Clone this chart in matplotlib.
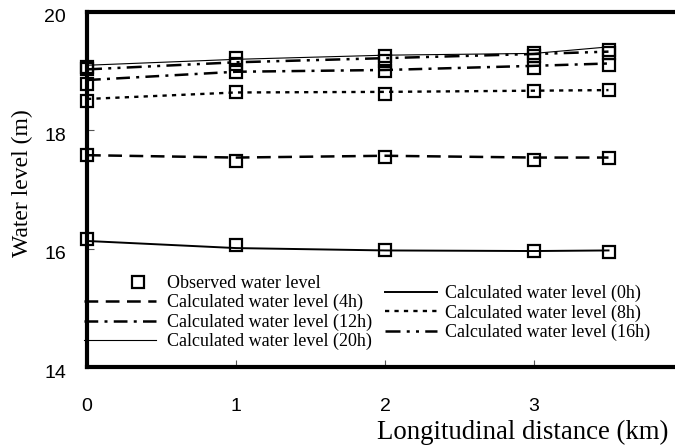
import matplotlib
matplotlib.use("Agg")
import matplotlib.pyplot as plt
import matplotlib.transforms as mtransforms
from matplotlib.lines import Line2D
from matplotlib.legend_handler import HandlerLine2D

# ---- data ----
distance_km = [0, 1, 2, 3, 3.5]
calc_0h  = [16.13, 16.01, 15.97, 15.96, 15.97]
calc_4h  = [17.58, 17.54, 17.57, 17.54, 17.54]
calc_8h  = [18.53, 18.64, 18.65, 18.67, 18.68]
calc_12h = [18.85, 18.99, 19.02, 19.09, 19.13]
calc_16h = [19.03, 19.15, 19.22, 19.29, 19.33]
calc_20h = [19.10, 19.20, 19.27, 19.30, 19.41]

obs_0h  = [16.16, 16.06, 15.98, 15.96, 15.95]
obs_4h  = [17.59, 17.49, 17.55, 17.50, 17.54]
obs_8h  = [18.50, 18.64, 18.62, 18.67, 18.68]
obs_12h = [18.78, 18.99, 19.00, 19.05, 19.10]
obs_16h = [19.03, 19.12, 19.18, 19.25, 19.30]
obs_20h = [19.07, 19.22, 19.26, 19.30, 19.36]

x_ticks = [0, 1, 2, 3]
y_ticks = [14, 16, 18, 20]

W, H = 675, 447
fig = plt.figure(figsize=(W / 100, H / 100), dpi=100)
ax = fig.add_axes([87 / W, 1 - 367 / H, (683 - 87) / W, (367 - 12) / H])
ax.set_xlim(0, 4)
ax.set_ylim(14, 20)

serif = "Liberation Serif"
sans = "Liberation Sans"

styles = {
    "0h": dict(ls="-", lw=1.4),
    "4h": dict(ls=(0, (5.5, 3)), lw=1.8),
    "8h": dict(ls=(0, (1.8, 2.2)), lw=1.7),
    "12h": dict(ls=(0, (5.5, 2.5, 1.2, 2.5)), lw=1.8),
    "16h": dict(ls=(0, (6, 2.5, 1.2, 2.5, 1.2, 2.5)), lw=1.8),
    "20h": dict(ls="-", lw=0.8),
}
calcs = {"0h": calc_0h, "4h": calc_4h, "8h": calc_8h,
         "12h": calc_12h, "16h": calc_16h, "20h": calc_20h}
obss = [obs_0h, obs_4h, obs_8h, obs_12h, obs_16h, obs_20h]

handles = {}
for key, vals in calcs.items():
    (ln,) = ax.plot(distance_km, vals, color="black", clip_on=False, **styles[key])
    handles[key] = ln
for vals in obss:
    ax.plot(distance_km, vals, ls="none", marker="s", ms=8, mfc="none",
            mec="black", mew=1.6, clip_on=False)

for s in ["left", "top", "bottom", "right"]:
    ax.spines[s].set_linewidth(3)
    ax.spines[s].set_color("black")

ax.set_xticks(x_ticks)
ax.set_yticks(y_ticks)
ax.tick_params(axis="both", direction="in", length=5, width=0.8, color="#555555",
               labelsize=14)
ax.tick_params(axis="x", pad=22)
ax.tick_params(axis="y", pad=15)
for lab in ax.get_xticklabels() + ax.get_yticklabels():
    lab.set_fontfamily(sans)
offset = mtransforms.ScaledTranslation(0, -4 / 100, fig.dpi_scale_trans)
for lab in ax.get_yticklabels():
    lab.set_transform(lab.get_transform() + offset)

fig.text(22 / W, 1 - 183 / H, "Water level (m)", rotation=90, ha="center",
         va="center", fontsize=17, family=serif)
fig.text(668 / W, 1 - 432 / H, "Longitudinal distance (km)", ha="right",
         va="center", fontsize=19.3, family=serif)


class ShiftedMarker(HandlerLine2D):
    # marker sits at 3/4 of the handle width, as in the reference legend
    def get_xdata(self, legend, xdescent, ydescent, width, height, fontsize):
        xd = [-xdescent + 0.5 * width, -xdescent + width]
        return xd, [-xdescent + 0.75 * width]


obs_handle = Line2D([], [], ls="none", marker="s", ms=8, mfc="none",
                    mec="black", mew=1.6)
leg1 = ax.legend([obs_handle, handles["4h"], handles["12h"], handles["20h"]],
                 ["Observed water level", "Calculated water level (4h)",
                  "Calculated water level (12h)", "Calculated water level (20h)"],
                 loc="upper left", bbox_to_anchor=(84 / W, 1 - 275 / H),
                 bbox_transform=fig.transFigure, frameon=False,
                 prop={"family": serif, "size": 13}, handlelength=4.0,
                 handletextpad=0.6, labelspacing=0.12, borderpad=0,
                 borderaxespad=0,
                 handler_map={obs_handle: ShiftedMarker(numpoints=1)})
ax.add_artist(leg1)
leg2 = ax.legend([handles["0h"], handles["8h"], handles["16h"]],
                 ["Calculated water level (0h)", "Calculated water level (8h)",
                  "Calculated water level (16h)"],
                 loc="upper left", bbox_to_anchor=(385 / W, 1 - 285 / H),
                 bbox_transform=fig.transFigure, frameon=False,
                 prop={"family": serif, "size": 13}, handlelength=2.9,
                 handletextpad=0.4, labelspacing=0.12, borderpad=0,
                 borderaxespad=0)

fig.savefig("out.png", dpi=100)
